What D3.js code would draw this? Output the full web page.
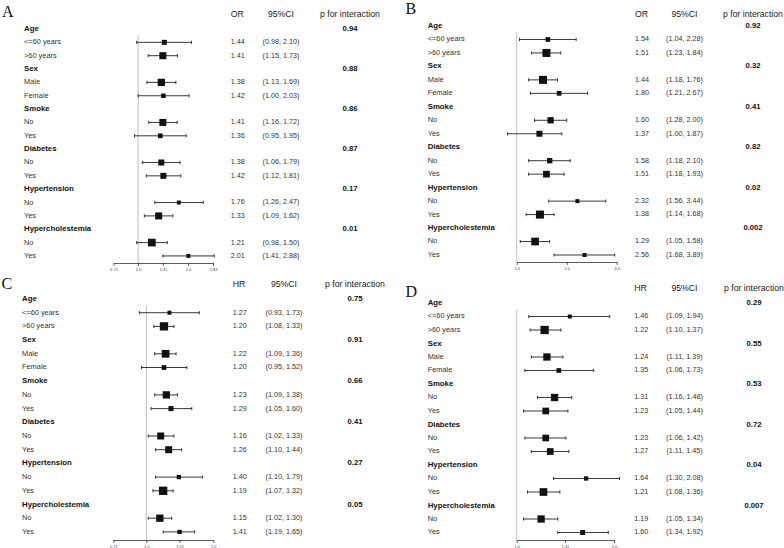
<!DOCTYPE html>
<html><head><meta charset="utf-8">
<script src="https://cdn.jsdelivr.net/npm/d3@7"></script>
<style>
html,body{margin:0;padding:0;background:#fff;}
svg{display:block;font-family:"Liberation Sans",Arial,sans-serif;}
</style></head>
<body>
<svg id="chart" width="784" height="548"></svg>
<script>
// ---------- data ----------
const groups = ["Age", "Sex", "Smoke", "Diabetes", "Hypertension", "Hypercholestemia"];
const subgroups = [["<=60 years", ">60 years"], ["Male", "Female"], ["No", "Yes"], ["No", "Yes"], ["No", "Yes"], ["No", "Yes"]];

// Panel A (OR)
const aEst  = [1.44, 1.41, 1.38, 1.42, 1.41, 1.36, 1.38, 1.42, 1.76, 1.33, 1.21, 2.01];
const aLow  = [0.98, 1.15, 1.13, 1.00, 1.16, 0.95, 1.06, 1.12, 1.26, 1.09, 0.98, 1.41];
const aHigh = [2.10, 1.73, 1.69, 2.03, 1.72, 1.95, 1.79, 1.81, 2.47, 1.62, 1.50, 2.88];
const aCI   = ["(0.98, 2.10)", "(1.15, 1.73)", "(1.13, 1.69)", "(1.00, 2.03)", "(1.16, 1.72)", "(0.95, 1.95)",
               "(1.06, 1.79)", "(1.12, 1.81)", "(1.26, 2.47)", "(1.09, 1.62)", "(0.98, 1.50)", "(1.41, 2.88)"];
const aP    = ["0.94", "0.88", "0.86", "0.87", "0.17", "0.01"];
const aWeight = [5, 7, 7.3, 4.5, 7, 4.7, 6, 6, 4, 7, 7.7, 4];
const aTicks = [0.71, 1.0, 1.41, 2.0, 2.83];
const aTickLabels = ["0.71", "1.0", "1.41", "2.0", "2.83"];

// Panel B (OR)
const bEst  = [1.54, 1.51, 1.44, 1.80, 1.60, 1.37, 1.58, 1.51, 2.32, 1.38, 1.29, 2.56];
const bLow  = [1.04, 1.23, 1.18, 1.21, 1.28, 0.88, 1.18, 1.18, 1.56, 1.14, 1.05, 1.68];
const bHigh = [2.28, 1.84, 1.76, 2.67, 2.00, 1.87, 2.10, 1.93, 3.44, 1.68, 1.58, 3.89];
const bCI   = ["(1.04, 2.28)", "(1.23, 1.84)", "(1.18, 1.76)", "(1.21, 2.67)", "(1.28, 2.00)", "(1.00, 1.87)",
               "(1.18, 2.10)", "(1.18, 1.93)", "(1.56, 3.44)", "(1.14, 1.68)", "(1.05, 1.58)", "(1.68, 3.89)"];
const bP    = ["0.92", "0.32", "0.41", "0.82", "0.02", "0.002"];
const bWeight = [4.7, 8, 8, 4.7, 6.3, 6, 5.3, 6.7, 4, 8, 7.7, 4];
const bTicks = [1, 2, 4];
const bTickLabels = ["1.0", "2.0", "4.0"];

// Panel C (HR)
const cEst  = [1.27, 1.20, 1.22, 1.20, 1.23, 1.29, 1.16, 1.26, 1.40, 1.19, 1.15, 1.41];
const cLow  = [0.93, 1.08, 1.09, 0.95, 1.09, 1.05, 1.02, 1.10, 1.10, 1.07, 1.02, 1.19];
const cHigh = [1.73, 1.33, 1.36, 1.52, 1.38, 1.60, 1.33, 1.44, 1.79, 1.32, 1.30, 1.65];
const cCI   = ["(0.93, 1.73)", "(1.08, 1.33)", "(1.09, 1.36)", "(0.95, 1.52)", "(1.09, 1.38)", "(1.05, 1.60)",
               "(1.02, 1.33)", "(1.10, 1.44)", "(1.10, 1.79)", "(1.07, 1.32)", "(1.02, 1.30)", "(1.19, 1.65)"];
const cP    = ["0.75", "0.91", "0.66", "0.41", "0.27", "0.05"];
const cWeight = [4, 8.3, 7.7, 4.7, 7.3, 5, 7, 7, 4.3, 8.3, 7.3, 4.3];
const cTicks = [0.71, 1.0, 1.41, 2.0];
const cTickLabels = ["0.71", "1.0", "1.41", "2.0"];

// Panel D (HR)
const dEst  = [1.46, 1.22, 1.24, 1.35, 1.31, 1.23, 1.23, 1.27, 1.64, 1.21, 1.19, 1.60];
const dLow  = [1.09, 1.10, 1.11, 1.06, 1.16, 1.05, 1.06, 1.11, 1.30, 1.08, 1.05, 1.34];
const dHigh = [1.94, 1.37, 1.39, 1.73, 1.48, 1.44, 1.42, 1.45, 2.08, 1.36, 1.34, 1.92];
const dCI   = ["(1.09, 1.94)", "(1.10, 1.37)", "(1.11, 1.39)", "(1.06, 1.73)", "(1.16, 1.48)", "(1.05, 1.44)",
               "(1.06, 1.42)", "(1.11, 1.45)", "(1.30, 2.08)", "(1.08, 1.36)", "(1.05, 1.34)", "(1.34, 1.92)"];
const dP    = ["0.29", "0.55", "0.53", "0.72", "0.04", "0.007"];
const dWeight = [4, 8.3, 7.3, 4.7, 7.3, 6.7, 6.7, 6.7, 4.3, 7.7, 7.3, 5];
const dTicks = [1, 1.41, 2];
const dTickLabels = ["1.0", "1.41", "2.0"];

// ---------- layout ----------
const panels = [
  {letter: "A", measure: "OR", est: aEst, low: aLow, high: aHigh, ci: aCI, p: aP, w: aWeight, ticks: aTicks, tickLabels: aTickLabels,
   letterX: 2, letterY: 16.5, labelX: 24, range: [113.5, 213], rowY0: 29, dy: 13.35, headerY: 15, estX: 230.7, ciX: 281, pX: 350, axisY: 263},
  {letter: "B", measure: "OR", est: bEst, low: bLow, high: bHigh, ci: bCI, p: bP, w: bWeight, ticks: bTicks, tickLabels: bTickLabels,
   letterX: 405.5, letterY: 14, labelX: 427.7, range: [516.7, 616.7], rowY0: 26, dy: 13.47, headerY: 15, estX: 635, ciX: 684.5, pX: 753, axisY: 262},
  {letter: "C", measure: "HR", est: cEst, low: cLow, high: cHigh, ci: cCI, p: cP, w: cWeight, ticks: cTicks, tickLabels: cTickLabels,
   letterX: 1.5, letterY: 289, labelX: 22, range: [113.3, 213.3], rowY0: 299, dy: 13.7, headerY: 285, estX: 232.7, ciX: 284, pX: 355, axisY: 540},
  {letter: "D", measure: "HR", est: dEst, low: dLow, high: dHigh, ci: dCI, p: dP, w: dWeight, ticks: dTicks, tickLabels: dTickLabels,
   letterX: 405.5, letterY: 297, labelX: 427.7, range: [516.7, 614], rowY0: 303, dy: 13.5, headerY: 289, estX: 634.3, ciX: 684.5, pX: 754, axisY: 540}
];

const svg = d3.select("#chart");
const boxScale = d3.scaleLinear().domain([0, 10]).range([0, 10]);

panels.forEach(P => {
  const g = svg.append("g");
  const x = d3.scaleLog().base(2).domain([P.ticks[0], P.ticks[P.ticks.length - 1]]).range(P.range);

  const rows = [];
  groups.forEach((grp, gi) => {
    rows.push({type: "group", label: grp, p: P.p[gi]});
    subgroups[gi].forEach((s, si) => {
      const k = gi * 2 + si;
      rows.push({type: "sub", label: s, est: P.est[k], low: P.low[k], high: P.high[k], ci: P.ci[k], w: P.w[k]});
    });
  });
  const y = i => P.rowY0 + i * P.dy;

  g.append("text").attr("x", P.letterX).attr("y", P.letterY)
    .style("font-family", "'Liberation Serif','Times New Roman',serif").style("font-size", "16px").attr("fill", "#111")
    .text(P.letter);

  const hdr = g.append("g").style("font-size", "8.7px").attr("fill", "#222");
  hdr.append("text").attr("x", P.estX).attr("y", P.headerY).attr("dominant-baseline", "middle").text(P.measure);
  hdr.append("text").attr("x", P.ciX).attr("y", P.headerY).attr("dominant-baseline", "middle").attr("text-anchor", "middle").text("95%CI");
  hdr.append("text").attr("x", P.pX).attr("y", P.headerY).attr("dominant-baseline", "middle").attr("text-anchor", "middle").text("p for interaction");

  g.append("line").attr("x1", x(1)).attr("x2", x(1))
    .attr("y1", y(1) - 7).attr("y2", P.axisY)
    .attr("stroke", "#c8c8c8").attr("stroke-width", 1.2);

  rows.forEach((r, i) => {
    const yy = y(i);
    if (r.type === "group") {
      g.append("text").attr("x", P.labelX).attr("y", yy).attr("dominant-baseline", "middle")
        .style("font-size", "7.8px").style("font-weight", "bold").attr("fill", "#111").text(r.label);
      g.append("text").attr("x", P.pX).attr("y", yy).attr("dominant-baseline", "middle").attr("text-anchor", "middle")
        .style("font-size", "7.7px").style("font-weight", "bold").attr("fill", "#111").text(r.p);
    } else {
      g.append("text").attr("x", P.labelX).attr("y", yy).attr("dominant-baseline", "middle")
        .style("font-size", "7.4px").attr("fill", "#333").text(r.label);
      g.append("text").attr("x", P.estX).attr("y", yy).attr("dominant-baseline", "middle")
        .style("font-size", "7.2px").attr("fill", "#333").text(r.est.toFixed(2));
      g.append("text").attr("x", P.ciX).attr("y", yy).attr("dominant-baseline", "middle").attr("text-anchor", "middle")
        .style("font-size", "7.2px").attr("fill", "#333").text(r.ci);
      g.append("line").attr("x1", x(r.low)).attr("x2", x(r.high)).attr("y1", yy).attr("y2", yy)
        .attr("stroke", "#222").attr("stroke-width", 0.9);
      [r.low, r.high].forEach(v => {
        g.append("line").attr("x1", x(v)).attr("x2", x(v)).attr("y1", yy - 1.6).attr("y2", yy + 1.6)
          .attr("stroke", "#222").attr("stroke-width", 0.9);
      });
      const s = boxScale(r.w);
      g.append("rect").attr("x", x(r.est) - s / 2).attr("y", yy - s / 2).attr("width", s).attr("height", s)
        .attr("fill", "#111");
    }
  });

  const axis = d3.axisBottom(x).tickValues(P.ticks).tickFormat((d, i) => P.tickLabels[i]).tickSize(3).tickSizeOuter(0);
  const ag = g.append("g").attr("transform", `translate(0,${P.axisY})`).call(axis);
  ag.select(".domain").attr("stroke", "#333").attr("stroke-width", 0.8);
  ag.selectAll(".tick line").attr("stroke", "#333").attr("stroke-width", 0.8);
  ag.selectAll(".tick text").attr("y", 5).style("font-size", "4px").attr("fill", "#444")
    .style("font-family", "'Liberation Sans',Arial,sans-serif");
});
</script>
</body></html>
